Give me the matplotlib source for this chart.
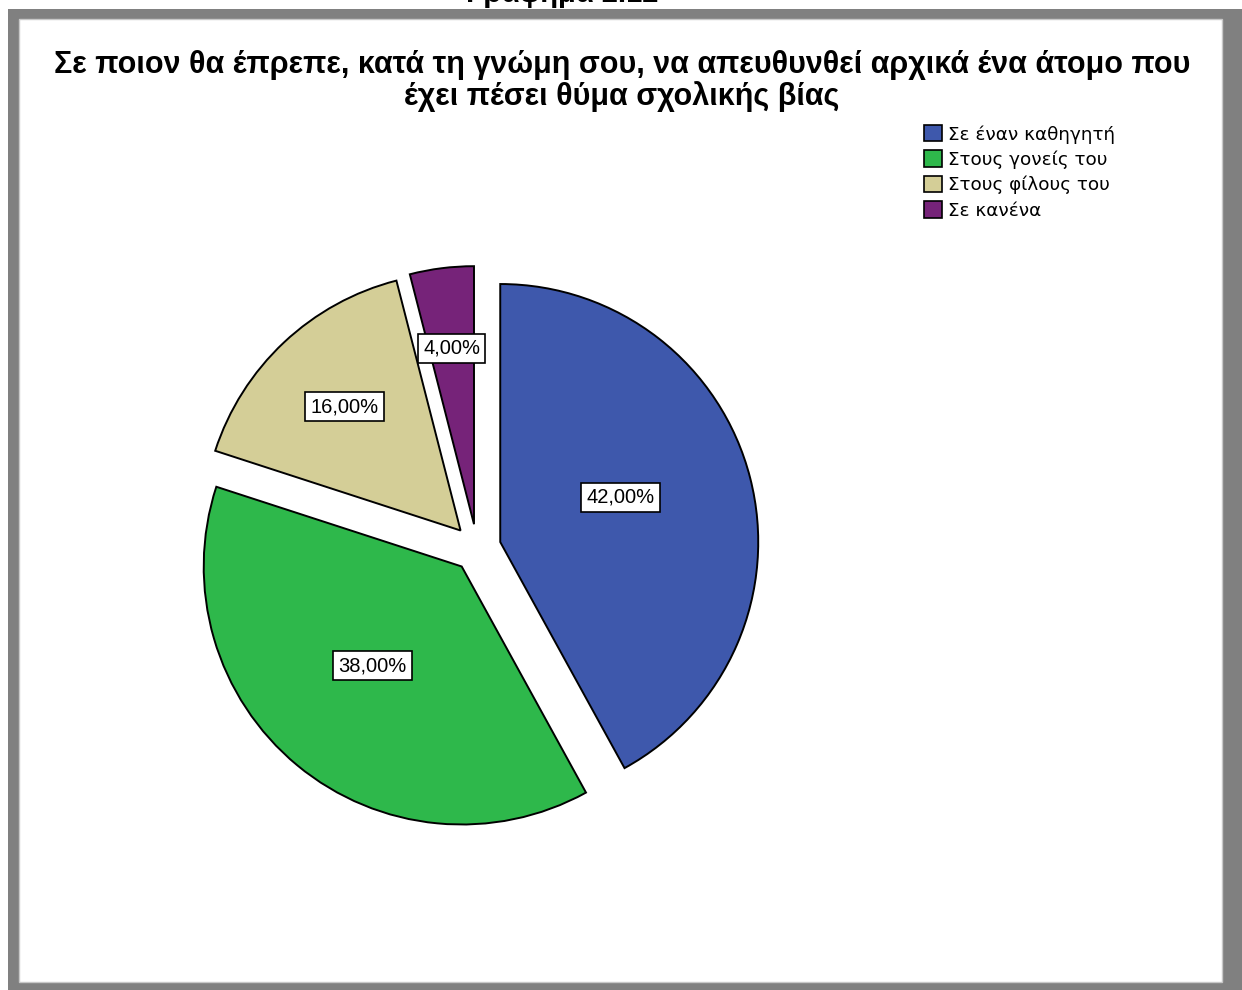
import numpy as np
import matplotlib
matplotlib.use("Agg")
import matplotlib.pyplot as plt
from matplotlib.patches import Rectangle, Patch

# Data
categories = ["Σε έναν καθηγητή", "Στους γονείς του", "Στους φίλους του", "Σε κανένα"]
percentages = [42.0, 38.0, 16.0, 4.0]
colors = ["#3E58AC", "#2EB84B", "#D4CE97", "#762379"]

title = "Σε ποιον θα έπρεπε, κατά τη γνώμη σου, να απευθυνθεί αρχικά ένα άτομο που\nέχει πέσει θύμα σχολικής βίας"
caption = "Γράφημα 2.12"

W, H = 1242, 990
fig = plt.figure(figsize=(W / 100, H / 100), dpi=100)
fig.patch.set_facecolor("white")

# Grey frame around the chart area
def px_rect(x0, y0, x1, y1, **kw):
    return Rectangle((x0 / W, 1 - y1 / H), (x1 - x0) / W, (y1 - y0) / H,
                     transform=fig.transFigure, **kw)

frame_col = "#808080"
for r in [(8, 9, 1242, 19), (8, 982, 1242, 990), (8, 9, 19, 990), (1222, 9, 1242, 990)]:
    fig.patches.append(px_rect(*r, facecolor=frame_col, edgecolor="none"))
fig.patches.append(px_rect(19, 19, 1222, 982, facecolor="none", edgecolor="#C8C8C8", linewidth=1))

# Caption above the frame (the page edge cuts its upper part)
fig.text(562 / W, 1 - 1.5 / H, caption, ha="center", va="baseline",
         fontsize=21, fontweight="bold", family="Liberation Sans", zorder=0)

# Title
fig.text(622 / W, 1 - 81 / H, title, ha="center", va="center", fontsize=22,
         fontweight="bold", family="Liberation Sans", linespacing=1.04)

# Pie
cx, cy, R = 477, 548, 258
half = 320
ax = fig.add_axes([(cx - half) / W, (H - cy - half) / H, 2 * half / W, 2 * half / H])
lim = half / R
ax.set_aspect("equal")
ax.axis("off")

explode = [0.093] * len(percentages)
wedges, _ = ax.pie(percentages, colors=colors, startangle=90, counterclock=False,
                   explode=explode, radius=1.0,
                   wedgeprops=dict(edgecolor="black", linewidth=1.4))
ax.set_xlim(-lim, lim)
ax.set_ylim(-lim, lim)

# Value labels in boxes, placed along each wedge's bisector
label_radius = [0.59, 0.61, 0.75, 0.78]
label_angle_shift = [5, -2, 0, 0]
for w, p, lr, sh in zip(wedges, percentages, label_radius, label_angle_shift):
    ang = np.deg2rad((w.theta1 + w.theta2) / 2 + sh)
    x, y = lr * np.cos(ang), lr * np.sin(ang)
    ax.text(x, y, f"{p:.2f}%".replace(".", ","), ha="center", va="center",
            fontsize=14.5, family="Liberation Sans",
            bbox=dict(boxstyle="square,pad=0.25", facecolor="white",
                      edgecolor="black", linewidth=1.2))

# Legend
handles = [Patch(facecolor=c, edgecolor="black", linewidth=1.2) for c in colors]
fig.legend(handles, categories, loc="upper left",
           bbox_to_anchor=(924 / W, 1 - 125 / H), frameon=False,
           prop=dict(family="DejaVu Sans", size=13.2),
           handlelength=1.0, handleheight=1.0, handletextpad=0.3,
           labelspacing=0.38, borderpad=0.0, borderaxespad=0.0)

fig.savefig("out.png", dpi=100, facecolor="white")
